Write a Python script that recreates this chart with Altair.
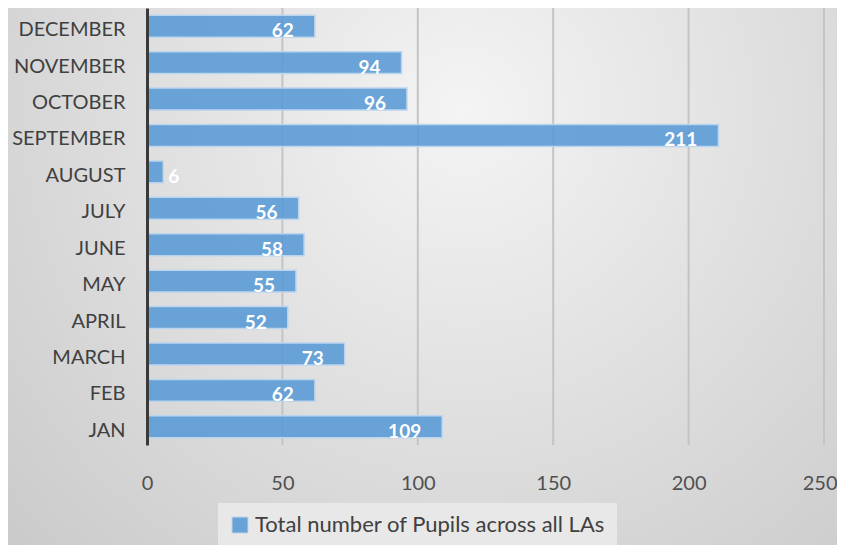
import altair as alt
import pandas as pd

months = ["JAN", "FEB", "MARCH", "APRIL", "MAY", "JUNE", "JULY",
          "AUGUST", "SEPTEMBER", "OCTOBER", "NOVEMBER", "DECEMBER"]
values = [109, 62, 73, 52, 55, 58, 56, 6, 211, 96, 94, 62]
series_name = "Total number of Pupils across all LAs"
x_ticks = [0, 50, 100, 150, 200, 250]

df = pd.DataFrame({"month": months, "value": values, "series": series_name})
ticks_df = pd.DataFrame({"tick": x_ticks})
order = months[::-1]

W, H = 677, 437
PAD = {"left": 139, "top": 0, "right": 13, "bottom": 100}
FONT = "Lato"

x_scale = alt.Scale(domain=[0, 250], nice=False)

bg = alt.Chart(alt.Data(values=[{}])).mark_rect(
    fill=alt.Gradient(
        gradient="radial",
        stops=[alt.GradientStop(offset=0, color="#f4f4f4"),
               alt.GradientStop(offset=1, color="#c8c8c8")],
        x1=0.55, y1=0.3, x2=0.55, y2=0.3, r1=0, r2=0.8,
    )
).encode(
    x=alt.value(-PAD["left"]), x2=alt.value(W + PAD["right"]),
    y=alt.value(-PAD["top"]), y2=alt.value(H + PAD["bottom"]),
)

grid = alt.Chart(ticks_df).transform_filter("datum.tick > 0").mark_rule(
    color="#c4c4c4", strokeWidth=2
).encode(
    x=alt.X("tick:Q", scale=x_scale, title=None),
    y=alt.value(0), y2=alt.value(H),
)

base = alt.Chart(df)

y_enc = alt.Y("month:N", sort=order, title=None,
              scale=alt.Scale(paddingInner=0.4, paddingOuter=0.2),
              axis=alt.Axis(labelFont=FONT, labelFontSize=20, labelColor="#404040",
                            labelPadding=22, labelOffset=4, ticks=False,
                            domainColor="#3a3a3a", domainWidth=3, grid=False,
                            zindex=1))
last_tick = f"datum.value == {x_ticks[-1]}"
x_enc = alt.X("value:Q", title=None, scale=x_scale,
              axis=alt.Axis(values=x_ticks, labelFont=FONT, labelFontSize=20,
                            labelColor="#505050", labelPadding=28, ticks=False,
                            labelFlush=False, labelBound=False, labelOverlap=False,
                            labelAlign=alt.condition(last_tick, alt.value("right"),
                                                     alt.value("center")),
                            labelOffset=alt.condition(last_tick, alt.value(13),
                                                      alt.value(0)),
                            domain=False, grid=False, zindex=1))

bars = base.mark_bar(stroke="#bcd5ee", strokeWidth=1.5, fillOpacity=0.9).encode(
    y=y_enc, x=x_enc,
    color=alt.Color("series:N", scale=alt.Scale(range=["#5b9bd5"]),
                    legend=alt.Legend(title=None, orient="none", legendX=71,
                                      legendY=495, labelFont=FONT, labelFontSize=22,
                                      labelColor="#404040", symbolType="square",
                                      symbolSize=256, symbolStrokeColor="#bcd5ee",
                                      symbolStrokeWidth=1, symbolOpacity=0.9,
                                      fillColor="#e8e8e8", padding=11,
                                      labelLimit=500)),
)

labels_in = base.transform_filter("datum.value >= 20").mark_text(
    align="right", baseline="alphabetic", dx=-21, dy=11, color="white",
    font=FONT, fontSize=19, fontWeight="bold"
).encode(y=alt.Y("month:N", sort=order), x="value:Q", text="value:Q")

labels_out = base.transform_filter("datum.value < 20").mark_text(
    align="left", baseline="alphabetic", dx=5, dy=11, color="white",
    font=FONT, fontSize=19, fontWeight="bold"
).encode(y=alt.Y("month:N", sort=order), x="value:Q", text="value:Q")

chart = alt.layer(bg, grid, bars, labels_in, labels_out).properties(
    width=W, height=H, padding=PAD, autosize=alt.AutoSizeParams(type="none"),
    background="#dcdcdc",
).configure_view(stroke=None)

chart.save("out.html", embed_options={"renderer": "svg", "actions": False})
